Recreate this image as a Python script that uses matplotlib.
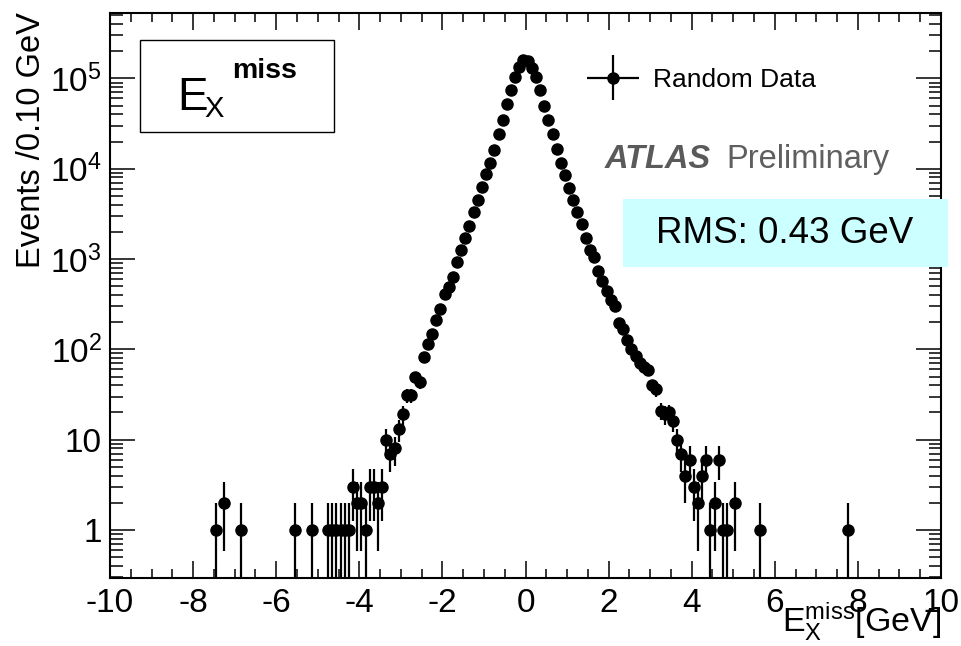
import numpy as np
import matplotlib
matplotlib.use("Agg")
import matplotlib.pyplot as plt
from matplotlib.ticker import MultipleLocator, LogLocator, FuncFormatter, NullFormatter
from matplotlib.legend_handler import HandlerErrorbar
from matplotlib.container import ErrorbarContainer
from matplotlib.patches import Rectangle

plt.rcParams['font.family'] = ['Liberation Sans', 'DejaVu Sans']
plt.rcParams['mathtext.fontset'] = 'custom'
plt.rcParams['mathtext.rm'] = 'Liberation Sans'
plt.rcParams['mathtext.it'] = 'Liberation Sans:italic'
plt.rcParams['mathtext.bf'] = 'Liberation Sans:bold'
plt.rcParams['mathtext.sf'] = 'Liberation Sans'
plt.rcParams['axes.unicode_minus'] = False

# Missing E_x in random-trigger events, 0.10 GeV bins (bin centres in GeV)
met_x = [
    -7.45, -7.25, -6.85, -5.55, -5.15,
    -4.75, -4.65, -4.55, -4.45, -4.35, -4.25, -4.15, -4.05, -3.95, -3.85,
    -3.75, -3.65, -3.55, -3.45, -3.35, -3.25, -3.15, -3.05, -2.95, -2.85,
    -2.75, -2.65, -2.55, -2.45, -2.35, -2.25, -2.15, -2.05, -1.95, -1.85,
    -1.75, -1.65, -1.55, -1.45, -1.35, -1.25, -1.15, -1.05, -0.95, -0.85,
    -0.75, -0.65, -0.55, -0.45, -0.35, -0.25, -0.15, -0.05,
    0.05, 0.15, 0.25, 0.35, 0.45, 0.55, 0.65, 0.75, 0.85, 0.95,
    1.05, 1.15, 1.25, 1.35, 1.45, 1.55, 1.65, 1.75, 1.85, 1.95,
    2.05, 2.15, 2.25, 2.35, 2.45, 2.55, 2.65, 2.75, 2.85, 2.95,
    3.05, 3.15, 3.25, 3.35, 3.45, 3.55, 3.65, 3.75, 3.85, 3.95,
    4.05, 4.15, 4.25, 4.35, 4.45, 4.55, 4.65, 4.75, 4.85,
    5.05, 5.65, 7.75,
]
events = [
    1, 2, 1, 1, 1,
    1, 1, 1, 1, 1, 1, 3, 2, 2, 1,
    3, 3, 2, 3, 10, 7, 8, 13, 19, 31,
    31, 49, 43, 82, 116, 148, 213, 280, 410, 490,
    630, 930, 1260, 1700, 2300, 3300, 4500, 6300, 8700, 11700,
    16200, 24000, 35000, 52000, 74000, 103000, 135000, 158000,
    155000, 132000, 103000, 74000, 50000, 35000, 24000, 16600, 11700, 8500,
    6100, 4500, 3300, 2450, 1700, 1260, 1050, 730, 570, 440,
    355, 300, 195, 166, 128, 102, 84, 71, 63, 59,
    40, 36, 21, 19, 20, 16, 10, 7, 4, 6,
    3, 2, 4, 6, 1, 2, 6, 1, 1,
    2, 1, 1,
]
bin_width = 0.10

x = np.array(met_x)
n = np.array(events, dtype=float)
err = np.sqrt(n)
err_lo = np.where(n - err <= 0, n - 1e-3, err)
err_hi = err

fig = plt.figure(figsize=(9.61, 6.46), dpi=100)
ax = fig.add_axes([0.1145, 0.1053, 0.8647, 0.8746])

eb = ax.errorbar(x, n, xerr=bin_width / 2, yerr=[err_lo, err_hi], fmt='o',
                 color='black', ms=8, elinewidth=1.6, capsize=0,
                 label='Random Data', zorder=3)

ax.set_yscale('log')
ax.set_xlim(-10, 10)
ax.set_ylim(0.294, 5.3e5)

ax.xaxis.set_major_locator(MultipleLocator(2))
ax.xaxis.set_minor_locator(MultipleLocator(0.5))
ax.xaxis.set_major_formatter(FuncFormatter(lambda v, p: '%d' % round(v)))
ax.yaxis.set_major_locator(LogLocator(base=10, numticks=12))
ax.yaxis.set_minor_locator(LogLocator(base=10, subs=np.arange(2, 10), numticks=12))
ax.yaxis.set_minor_formatter(NullFormatter())


def log_label(v, pos):
    e = int(round(np.log10(v)))
    if e == 0:
        return '1'
    if e == 1:
        return '10'
    return r'$\mathregular{10^{%d}}$' % e


ax.yaxis.set_major_formatter(FuncFormatter(log_label))

ax.tick_params(which='both', direction='in', top=True, right=True, width=1.1)
ax.tick_params(axis='x', which='major', length=12, labelsize=24, pad=7)
ax.tick_params(axis='x', which='minor', length=6.5)
ax.tick_params(axis='y', which='major', length=18, labelsize=24, pad=6)
ax.tick_params(axis='y', which='minor', length=9)
for s in ax.spines.values():
    s.set_linewidth(1.5)

# Axis titles, ROOT style: aligned to the far ends of the axes
fig.text(32 / 961, 1 - 12 / 646, 'Events /0.10 GeV', rotation=90,
         ha='center', va='top', fontsize=23.5)
fig.text(941 / 961, 1 - 632 / 646,
         r'$\mathregular{E_{X}^{miss}}$[GeV]', ha='right', va='baseline',
         fontsize=24.5)

# Legend
ax.legend(handles=[eb], labels=['Random Data'], loc='center left',
          bbox_to_anchor=(0.572, 0.8814), frameon=False, fontsize=19,
          handlelength=2.1, handletextpad=0.45, borderpad=0, borderaxespad=0,
          handler_map={ErrorbarContainer: HandlerErrorbar(xerr_size=1.0, yerr_size=0.85)})

# Experiment label
ax.text(0.5957, 0.7251, 'ATLAS', fontsize=23.5, fontweight='bold',
        fontstyle='italic', color='#5a5a5a', va='baseline', transform=ax.transAxes)
ax.text(0.7413, 0.7251, 'Preliminary', fontsize=23.5, color='#5f5f5f',
        va='baseline', transform=ax.transAxes)

# RMS box
ax.add_patch(Rectangle((0.6173, 0.5504), 0.391, 0.1204, transform=ax.transAxes,
                       facecolor='#ccffff', edgecolor='none', clip_on=False, zorder=4))
ax.text(0.657, 0.593, 'RMS: 0.43 GeV', fontsize=26.5, color='black',
        va='baseline', transform=ax.transAxes, zorder=5)

# Quantity box
ax.add_patch(Rectangle((0.0361, 0.7894), 0.2335, 0.1628, transform=ax.transAxes,
                       facecolor='white', edgecolor='black', linewidth=1.0, zorder=4))
ax.text(0.0806, 0.828, 'E', fontsize=33, va='baseline', transform=ax.transAxes, zorder=5)
ax.text(0.1131, 0.816, 'X', fontsize=21, va='baseline', transform=ax.transAxes, zorder=5)
ax.text(0.1468, 0.885, 'miss', fontsize=20.5, fontweight='bold', va='baseline',
        transform=ax.transAxes, zorder=5)

fig.savefig('out.png', dpi=100)
